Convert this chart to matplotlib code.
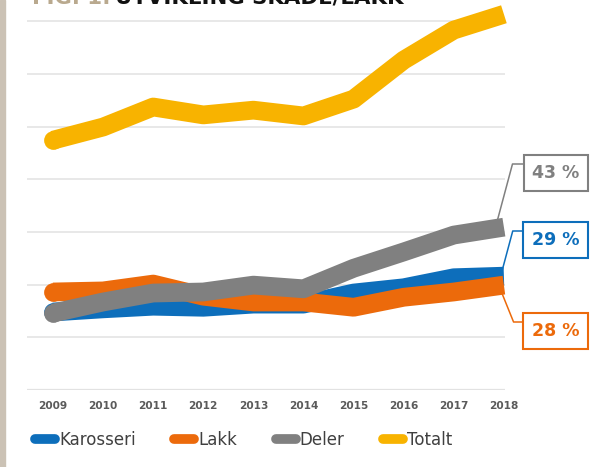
import matplotlib
matplotlib.use("Agg")
import matplotlib.pyplot as plt
from matplotlib.lines import Line2D
from matplotlib.patches import Rectangle

# ---- data (index units; one gridline step = 1) ----
years = [2009, 2010, 2011, 2012, 2013, 2014, 2015, 2016, 2017, 2018]
karosseri = [1.48, 1.54, 1.59, 1.57, 1.63, 1.63, 1.84, 1.94, 2.13, 2.16]
lakk = [1.86, 1.88, 2.01, 1.78, 1.67, 1.67, 1.57, 1.76, 1.86, 1.99]
deler = [1.46, 1.67, 1.84, 1.86, 1.99, 1.92, 2.31, 2.62, 2.94, 3.09]
totalt = [4.74, 4.99, 5.37, 5.22, 5.31, 5.20, 5.52, 6.26, 6.83, 7.13]
series_names = ["Karosseri", "Lakk", "Deler", "Totalt"]
growth_pct = {"Karosseri": 29, "Lakk": 28, "Deler": 43}
title_prefix = "FIG. 1:"
title_main = "UTVIKLING SKADE/LAKK"

colors = {"Karosseri": "#0d6ebb", "Lakk": "#ec6a0b", "Deler": "#808080", "Totalt": "#f8b300"}
values = {"Karosseri": karosseri, "Lakk": lakk, "Deler": deler, "Totalt": totalt}

W, H = 614, 467
fig = plt.figure(figsize=(W / 100, H / 100), dpi=100)
fig.patch.set_facecolor("white")

# left beige strip
fig.patches.append(Rectangle((0, 0), 5 / W, 1, transform=fig.transFigure,
                             color="#cbc2b5", zorder=0))

ax = fig.add_axes([27 / W, 1 - 390 / H, (505 - 27) / W, 390 / H])
ax.set_facecolor("none")
ax.set_xlim(2009 - 26 / 50.1, 2009 + (505 - 53) / 50.1)
ax.set_ylim(0, 390 / 52.7)
for s in ax.spines.values():
    s.set_visible(False)
ax.set_yticks(range(0, 8))
ax.set_yticklabels([])
ax.tick_params(axis="y", length=0)
ax.grid(axis="y", color="#e4e4e4", linewidth=1.2, zorder=0)
ax.axhline(0, color="#dcdcdc", linewidth=1.6, zorder=0.5)
ax.set_xticks(years)
ax.set_xticklabels([str(y) for y in years], fontsize=7.6, fontweight="bold",
                   color="#5a5a5a")
ax.tick_params(axis="x", length=0, pad=8)

lw = 13.5
for i, name in enumerate(series_names):
    v = values[name]
    ax.plot(years, v, color=colors[name], lw=lw, solid_capstyle="butt",
            solid_joinstyle="round", zorder=2 + i, clip_on=False)
    ax.plot(years[:1], v[:1], "o", color=colors[name], ms=lw, mew=0,
            zorder=2 + i, clip_on=False)

# value labels with leader lines
label_specs = {
    "Deler": dict(dx=-7, dy=5, ty=173, angleB=75),
    "Karosseri": dict(dx=-3, dy=1, ty=240, angleB=75),
    "Lakk": dict(dx=-2, dy=-8, ty=331, angleB=-68),
}
for name, sp in label_specs.items():
    v = values[name]
    xy = (years[-1] + sp["dx"] / 50.1, v[-1] + sp["dy"] / 52.7)
    xytext = (years[-1] + 52 / 50.1, (390 - sp["ty"]) / 52.7)
    ax.annotate(f"{growth_pct[name]} %", xy=xy, xytext=xytext,
                xycoords="data", textcoords="data",
                ha="center", va="center", fontsize=12.5, fontweight="bold",
                color=colors[name], annotation_clip=False, zorder=10,
                bbox=dict(boxstyle="square,pad=0.5", fc="white",
                          ec=colors[name], lw=1.5),
                arrowprops=dict(arrowstyle="-", color=colors[name], lw=1.1,
                                relpos=(0, 1.0), shrinkA=0, shrinkB=0,
                                connectionstyle=f"angle,angleA=0,angleB={sp['angleB']},rad=0"))

# legend
handles = [Line2D([0], [0], color=colors[n], lw=7, solid_capstyle="round")
           for n in series_names]
fig.legend(handles, series_names, loc="center left",
           bbox_to_anchor=(35 / W, 1 - 440 / H), ncol=4, frameon=False,
           fontsize=12, handlelength=1.2, handletextpad=0.25,
           columnspacing=2.3, borderpad=0, borderaxespad=0,
           labelcolor="#404040")

# title (cut off at top as in the reference)
fig.text(32 / W, 1 - 3.5 / H, title_prefix, fontsize=15.3, fontweight="bold",
         color="#b9a98e", va="baseline", ha="left")
fig.text(115 / W, 1 - 3.5 / H, title_main, fontsize=15.3, fontweight="bold",
         color="#111111", va="baseline", ha="left")

fig.savefig("out.png", dpi=100)
